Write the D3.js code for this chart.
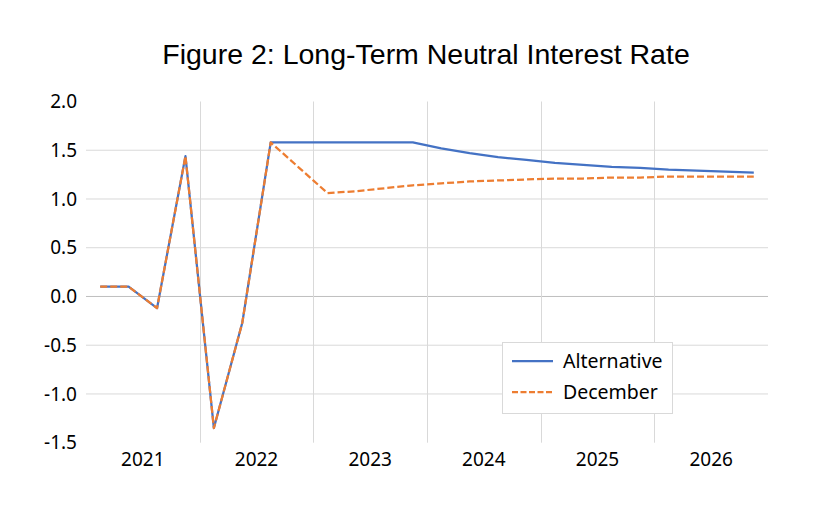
<!DOCTYPE html>
<html>
<head>
<meta charset="utf-8">
<script src="https://cdn.jsdelivr.net/npm/d3@7"></script>
<style>
  html, body { margin: 0; padding: 0; background: #fff; }
  svg { display: block; }
</style>
</head>
<body>
<svg id="chart" width="816" height="516"></svg>
<script>
const years = ["2021", "2022", "2023", "2024", "2025", "2026"];
const quarters = years.flatMap(y => ["Q1", "Q2", "Q3", "Q4"].map(q => y + q));
const alternative = [0.10, 0.10, -0.12, 1.44, -1.35, -0.27, 1.58, 1.58, 1.58, 1.58, 1.58, 1.58,
                     1.52, 1.47, 1.43, 1.40, 1.37, 1.35, 1.33, 1.32, 1.30, 1.29, 1.28, 1.27];
const december = [0.10, 0.10, -0.12, 1.44, -1.35, -0.27, 1.58, 1.32, 1.06, 1.08, 1.11, 1.14,
                  1.16, 1.18, 1.19, 1.20, 1.21, 1.21, 1.22, 1.22, 1.23, 1.23, 1.23, 1.23];
const yTicks = [-1.5, -1.0, -0.5, 0.0, 0.5, 1.0, 1.5, 2.0];
const seriesNames = ["Alternative", "December"];

const svg = d3.select("#chart");
const pLeft = 86, pRight = 768, pTop = 101.5, pBottom = 442.7;

const xYear = d3.scaleBand().domain(years).range([pLeft, pRight]);
const xQ = d3.scalePoint().domain(quarters).range([pLeft, pRight]).padding(0.5);
const y = d3.scaleLinear().domain([-1.5, 2.0]).range([pBottom, pTop]);

const labelFont = "'Noto Sans', sans-serif";
const fmt = d3.formatLocale({decimal: ".", thousands: ",", grouping: [3], currency: ["", ""], minus: "-"}).format(".1f");

// Horizontal gridlines
svg.append("g").selectAll("line")
  .data(yTicks.filter(t => t !== 2.0 && t !== -1.5))
  .join("line")
  .attr("x1", pLeft).attr("x2", pRight)
  .attr("y1", d => y(d)).attr("y2", d => y(d))
  .attr("stroke", d => d === 0 ? "#bfbfbf" : "#d9d9d9")
  .attr("stroke-width", 1);

// Vertical gridlines at year boundaries
svg.append("g").selectAll("line")
  .data(years.slice(1))
  .join("line")
  .attr("x1", d => Math.round(xYear(d)) + 0.5).attr("x2", d => Math.round(xYear(d)) + 0.5)
  .attr("y1", pTop).attr("y2", pBottom)
  .attr("stroke", "#d9d9d9")
  .attr("stroke-width", 1);

// Y axis labels
const yAxis = d3.axisLeft(y).tickValues(yTicks).tickFormat(fmt).tickSize(0).tickPadding(9);
const gy = svg.append("g").attr("transform", `translate(${pLeft},0)`).call(yAxis);
gy.select(".domain").remove();
gy.selectAll("text").attr("font-family", labelFont).attr("font-size", 19).attr("fill", "#000");

// X axis labels
const xAxis = d3.axisBottom(xYear).tickSize(0).tickPadding(10);
const gx = svg.append("g").attr("transform", `translate(0,${pBottom})`).call(xAxis);
gx.select(".domain").remove();
gx.selectAll("text").attr("font-family", labelFont).attr("font-size", 19).attr("fill", "#000");

// Lines
const line = d3.line().x((d, i) => xQ(quarters[i])).y(d => y(d));
svg.append("path").datum(alternative)
  .attr("d", line).attr("fill", "none")
  .attr("stroke", "#4472C4").attr("stroke-width", 2.25).attr("stroke-linejoin", "round");
svg.append("path").datum(december)
  .attr("d", line).attr("fill", "none")
  .attr("stroke", "#ED7D31").attr("stroke-width", 2.25).attr("stroke-dasharray", "7,3")
  .attr("stroke-linejoin", "round");

// Title
svg.append("text")
  .attr("x", 426).attr("y", 64)
  .attr("text-anchor", "middle")
  .attr("font-family", "'Liberation Sans', Arial, sans-serif")
  .attr("font-size", 28.5)
  .attr("fill", "#000")
  .text("Figure 2: Long-Term Neutral Interest Rate");

// Legend
const lg = svg.append("g");
lg.append("rect").attr("x", 502.5).attr("y", 342.5).attr("width", 170).attr("height", 71)
  .attr("fill", "#fff").attr("stroke", "#d9d9d9").attr("stroke-width", 1);
const colors = ["#4472C4", "#ED7D31"];
const dashes = [null, "6,2.5"];
seriesNames.forEach((name, i) => {
  const yy = 361 + i * 31;
  lg.append("line").attr("x1", 512).attr("x2", 553).attr("y1", yy).attr("y2", yy)
    .attr("stroke", colors[i]).attr("stroke-width", 2.25).attr("stroke-dasharray", dashes[i]);
  lg.append("text").attr("x", 563).attr("y", yy).attr("dy", "0.35em")
    .attr("font-family", labelFont).attr("font-size", 19.5).attr("fill", "#000")
    .text(name);
});
</script>
</body>
</html>
